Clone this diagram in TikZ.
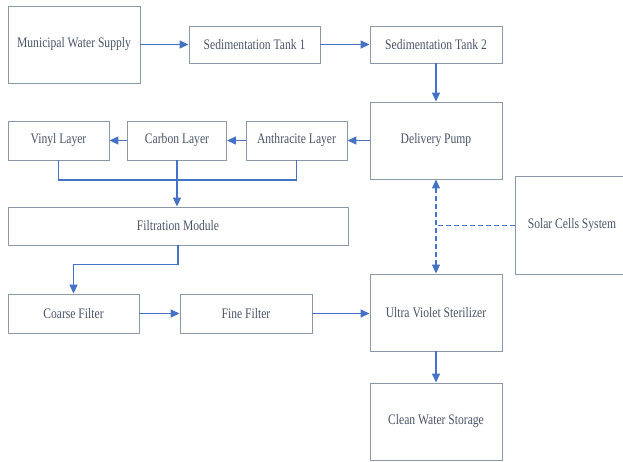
\documentclass[tikz,border=0pt]{standalone}
\usepackage{fontspec}
\setmainfont{Liberation Serif}
\usepackage{graphicx}
\usepackage{tikz}
\usetikzlibrary{positioning, arrows.meta, calc}
\definecolor{boxline}{RGB}{138,152,168}
\definecolor{boxtext}{RGB}{72,84,102}
\definecolor{flowblue}{RGB}{68,114,196}
\newcommand{\narrow}[1]{\scalebox{0.8}[1]{#1}}
\tikzset{
  block/.style={rectangle, draw=boxline, line width=0.9pt, inner sep=0pt, text=boxtext, font=\fontsize{14.5}{16}\selectfont, align=center},
  flow/.style={draw=flowblue, line width=1.4pt, -{Triangle[length=9pt,width=8pt]}},
  wire/.style={draw=flowblue, line width=1.4pt},
  power/.style={draw=flowblue, line width=1.1pt, dash pattern=on 5pt off 3pt}
}
\begin{document}
\begin{tikzpicture}[x=1pt, y=1pt]
    \useasboundingbox (0,0) rectangle (623,-461);
    \clip (0,0) rectangle (623,-461);

    % Zulauf und Sedimentation
    \node[block, minimum width=132, minimum height=77] (supply) at (74,-44.5) {\narrow{Municipal Water Supply}};
    \node[block, minimum width=131, minimum height=37] (tank1) at (254.5,-44.5) {\narrow{Sedimentation Tank 1}};
    \node[block, minimum width=132, minimum height=37] (tank2) at (436,-44.5) {\narrow{Sedimentation Tank 2}};
    \node[block, minimum width=132, minimum height=77] (pump) at (436,-140.5) {\narrow{Delivery Pump}};

    % Filterschichten
    \node[block, minimum width=101, minimum height=39] (vinyl) at (58.5,-140.5) {\narrow{Vinyl Layer}};
    \node[block, minimum width=99, minimum height=39] (carbon) at (177,-140.5) {\narrow{Carbon Layer}};
    \node[block, minimum width=101, minimum height=39] (anthra) at (296.5,-140.5) {\narrow{Anthracite Layer}};
    \node[block, minimum width=340, minimum height=38] (module) at (178,-226) {\narrow{Filtration Module}};

    % Feinfilter, UV und Speicher
    \node[block, minimum width=131, minimum height=39] (coarse) at (73.5,-313.5) {\narrow{Coarse Filter}};
    \node[block, minimum width=132, minimum height=39] (fine) at (246,-313.5) {\narrow{Fine Filter}};
    \node[block, minimum width=132, minimum height=77] (uv) at (436,-312.5) {\narrow{Ultra Violet Sterilizer}};
    \node[block, minimum width=132, minimum height=77] (storage) at (436,-421.5) {\narrow{Clean Water Storage}};
    \node[block, minimum width=116, minimum height=98] (solar) at (573,-225.5) {\hspace*{-2pt}\narrow{Solar Cells System}};

    % Hauptstrom
    \draw[flow] (supply) -- (tank1);
    \draw[flow] (tank1) -- (tank2);
    \draw[flow] (tank2) -- (pump);
    \draw[flow] (pump) -- (anthra);
    \draw[flow] (anthra) -- (carbon);
    \draw[flow] (carbon) -- (vinyl);

    % Sammelleitung unter den Schichten
    \coordinate (bus) at (0,-180);
    \draw[wire] (vinyl.south) -- (vinyl.south |- bus) -- (anthra.south |- bus) -- (anthra.south);
    \draw[flow] (carbon.south) -- (carbon.south |- module.north);
    \draw[flow] (module.south) -- ++(0,-19) -| (coarse.north);
    \draw[flow] (coarse) -- (fine);
    \draw[flow] (fine) -- (fine -| uv.west);
    \draw[flow] (uv) -- (storage);

    % Solarversorgung
    \draw[power, {Triangle[length=9pt,width=8pt]}-{Triangle[length=9pt,width=8pt]}] (pump.south) -- (uv.north);
    \draw[power] (solar.west) -- (solar.west -| pump.south);

\end{tikzpicture}
\end{document}
